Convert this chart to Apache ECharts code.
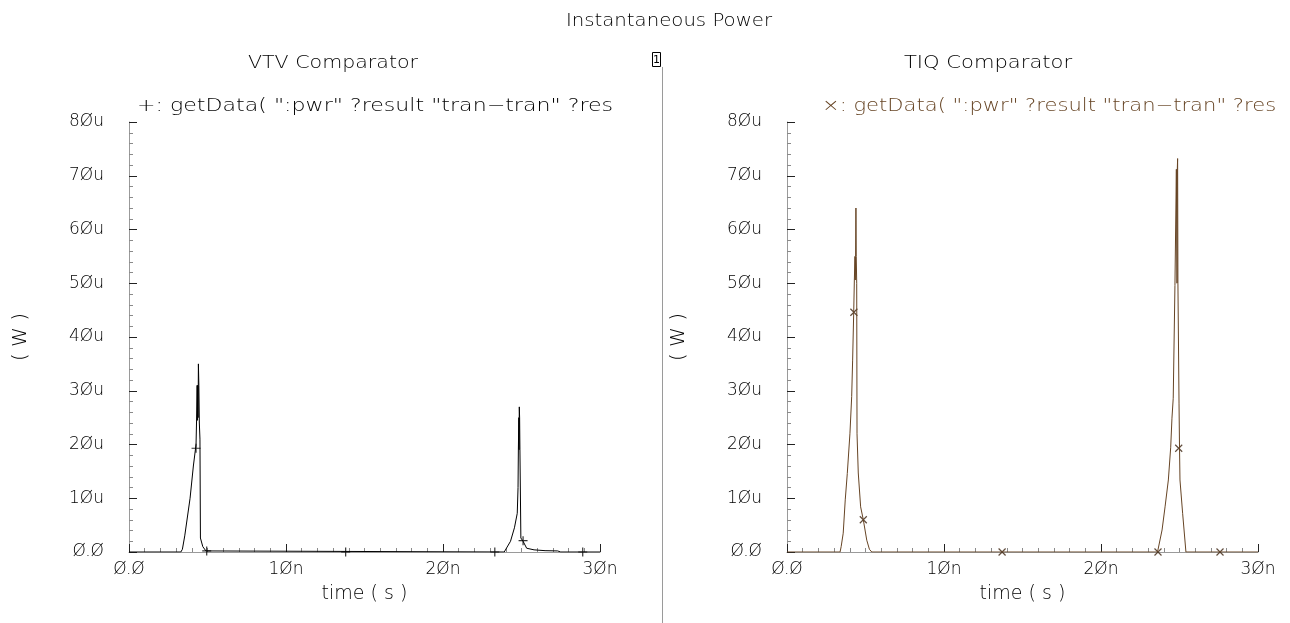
<!DOCTYPE html>
<html><head><meta charset="utf-8">
<script src="https://cdn.jsdelivr.net/npm/echarts@6/dist/echarts.min.js"></script>
<style>html,body{margin:0;padding:0;background:#fff}#c{width:1290px;height:623px}</style>
</head><body><div id="c"></div>
<script>
// ---- text ----
const mainTitle = 'Instantaneous Power';
const panelTitles = ['VTV Comparator', 'TIQ Comparator'];
const traceLabels = ['+: getData( ":pwr" ?result "tran\u2212tran" ?res', '\u00d7: getData( ":pwr" ?result "tran\u2212tran" ?res'];
const xAxisName = 'time ( s )';
const yAxisName = '( W )';
const xTickLabels = ['\u00d8.\u00d8', '1\u00d8n', '2\u00d8n', '3\u00d8n'];          // 0,10n,20n,30n
const yTickLabels = ['\u00d8.\u00d8', '1\u00d8u', '2\u00d8u', '3\u00d8u', '4\u00d8u', '5\u00d8u', '6\u00d8u', '7\u00d8u', '8\u00d8u'];

// ---- data (time in ns, power in uW) ----
const vtvTime = [0, 3.30, 3.40, 3.55, 3.89, 4.10, 4.27, 4.30, 4.34, 4.36, 4.38, 4.40, 4.42, 4.45, 4.48, 4.52, 4.55, 4.70, 4.90, 5.00,
  23.90, 24.00, 24.30, 24.55, 24.73, 24.78, 24.80, 24.83, 24.84, 24.86, 24.88, 24.90, 24.94, 24.96, 25.10, 25.33, 25.80, 26.50, 27.30, 27.50, 30.00];
const vtvPower = [0, 0, 0.5, 3, 10, 16, 20, 24, 31, 24.5, 31, 25, 35, 31, 24, 21, 2.6, 1.0, 0.2, 0,
  0, 0.3, 2, 4.5, 7.2, 12, 19, 25, 19, 27, 25, 19, 19, 2.6, 2.0, 0.7, 0.4, 0.25, 0.2, 0, 0];
const vtvMarkT = [4.27, 4.95, 13.8, 23.3, 25.1, 28.9];
const vtvMarkP = [19.3, 0.2, 0, 0, 2.1, 0];

const tiqTime = [0, 3.38, 3.45, 3.58, 3.71, 3.84, 4.01, 4.12, 4.18, 4.25, 4.29, 4.33, 4.35, 4.37, 4.39, 4.41, 4.44, 4.46, 4.54, 4.69, 4.86, 5.08, 5.25, 5.40,
  23.60, 23.71, 23.89, 24.08, 24.29, 24.44, 24.52, 24.60, 24.71, 24.80, 24.84, 24.86, 24.88, 24.90, 24.97, 25.00, 25.03, 25.20, 25.41, 30.00];
const tiqPower = [0, 0, 1, 3.5, 9.7, 14.6, 22.1, 28.9, 35.7, 44.7, 50.6, 55, 50.6, 55, 64, 55, 50, 22, 14.7, 8.4, 6, 2.2, 0.5, 0,
  0, 0.2, 4.1, 8.4, 13.4, 19.5, 24.9, 28.6, 49.6, 71.2, 50, 71.2, 73.2, 50, 27.7, 19.5, 13.4, 7.2, 0, 0];
const tiqMarkT = [4.26, 4.86, 13.7, 23.63, 24.95, 27.58];
const tiqMarkP = [44.6, 6, 0, 0, 19.3, 0];

const zip = (a, b) => a.map((v, i) => [v, b[i]]);
const FONT = 'DejaVu Sans';
const W = 200;
const traceColors = ['#000000', '#664424'];
const markColors = ['#000000', '#3a200c'];
const plusPath = 'path://M0,5L10,5M5,0L5,10';
const crossPath = 'path://M0,0L10,10M10,0L0,10';

const grids = [
  { left: 129, top: 122, width: 471, height: 430 },
  { left: 787, top: 122, width: 471, height: 430 }
];

function xAxis(i) {
  return {
    type: 'value', gridIndex: i, min: 0, max: 30, interval: 10,
    name: xAxisName, nameLocation: 'middle', nameGap: 33,
    nameTextStyle: { fontFamily: FONT, fontWeight: W, fontSize: 19, color: '#000' },
    axisLine: { lineStyle: { color: '#9a9a9a', width: 1 } },
    axisTick: { inside: true, length: 8, lineStyle: { color: '#222' } },
    minorTick: { show: true, splitNumber: 10, length: 4, lineStyle: { color: '#8a8a8a' } },
    splitLine: { show: false },
    axisLabel: { margin: 9, fontFamily: FONT, fontWeight: W, fontSize: 17, color: '#000',
      formatter: v => xTickLabels[Math.round(v / 10)] }
  };
}
function yAxis(i) {
  return {
    type: 'value', gridIndex: i, min: 0, max: 80, interval: 10,
    name: yAxisName, nameLocation: 'middle', nameGap: 98,
    nameTextStyle: { fontFamily: FONT, fontWeight: W, fontSize: 20, color: '#000' },
    axisLine: { show: true, lineStyle: { color: '#9a9a9a', width: 1 } },
    axisTick: { show: true, inside: true, length: 8, lineStyle: { color: '#222' } },
    minorTick: { show: true, splitNumber: 5, length: 4, lineStyle: { color: '#8a8a8a' } },
    splitLine: { show: false },
    axisLabel: { margin: 25, fontFamily: FONT, fontWeight: W, fontSize: 17, color: '#000', padding: [0, 0, 18, 0],
      formatter: v => yTickLabels[Math.round(v / 10)] }
  };
}

function txt(s, x, y, align, sx, color) {
  return { type: 'text', x: x, y: y, scaleX: sx,
    style: { text: s, font: W + ' 17px "' + FONT + '"', fill: color || '#000', align: align, verticalAlign: 'middle' } };
}

const chart = echarts.init(document.getElementById('c'), null, { renderer: 'canvas' });
chart.setOption({
  animation: false,
  backgroundColor: '#ffffff',
  grid: grids,
  xAxis: [xAxis(0), xAxis(1)],
  yAxis: [yAxis(0), yAxis(1)],
  series: [
    { type: 'line', xAxisIndex: 0, yAxisIndex: 0, data: zip(vtvTime, vtvPower), showSymbol: false,
      lineStyle: { color: traceColors[0], width: 1 } },
    { type: 'scatter', xAxisIndex: 0, yAxisIndex: 0, data: zip(vtvMarkT, vtvMarkP), symbol: plusPath, symbolSize: 9,
      itemStyle: { color: 'none', borderColor: markColors[0], borderWidth: 1.2 } },
    { type: 'line', xAxisIndex: 1, yAxisIndex: 1, data: zip(tiqTime, tiqPower), showSymbol: false,
      lineStyle: { color: traceColors[1], width: 1 } },
    { type: 'scatter', xAxisIndex: 1, yAxisIndex: 1, data: zip(tiqMarkT, tiqMarkP), symbol: crossPath, symbolSize: 7,
      itemStyle: { color: 'none', borderColor: markColors[1], borderWidth: 1.2 } }
  ],
  graphic: [
    txt(mainTitle, 669, 22, 'center', 1.16),
    txt(panelTitles[0], 333, 64, 'center', 1.21),
    txt(panelTitles[1], 988, 64, 'center', 1.24),
    txt(traceLabels[0], 137, 107, 'left', 1.30, traceColors[0]),
    txt(traceLabels[1], 822, 107, 'left', 1.24, traceColors[1]),
    { type: 'line', shape: { x1: 662.5, y1: 67, x2: 662.5, y2: 623 }, style: { stroke: '#9a9a9a', lineWidth: 1 } },
    { type: 'rect', shape: { x: 652.5, y: 52.5, width: 8, height: 14 }, style: { fill: '#fff', stroke: '#000', lineWidth: 1 } },
    { type: 'text', x: 656.5, y: 60, style: { text: '1', font: '11px "' + FONT + '"', fill: '#000', align: 'center', verticalAlign: 'middle' } }
  ]
});
</script></body></html>
